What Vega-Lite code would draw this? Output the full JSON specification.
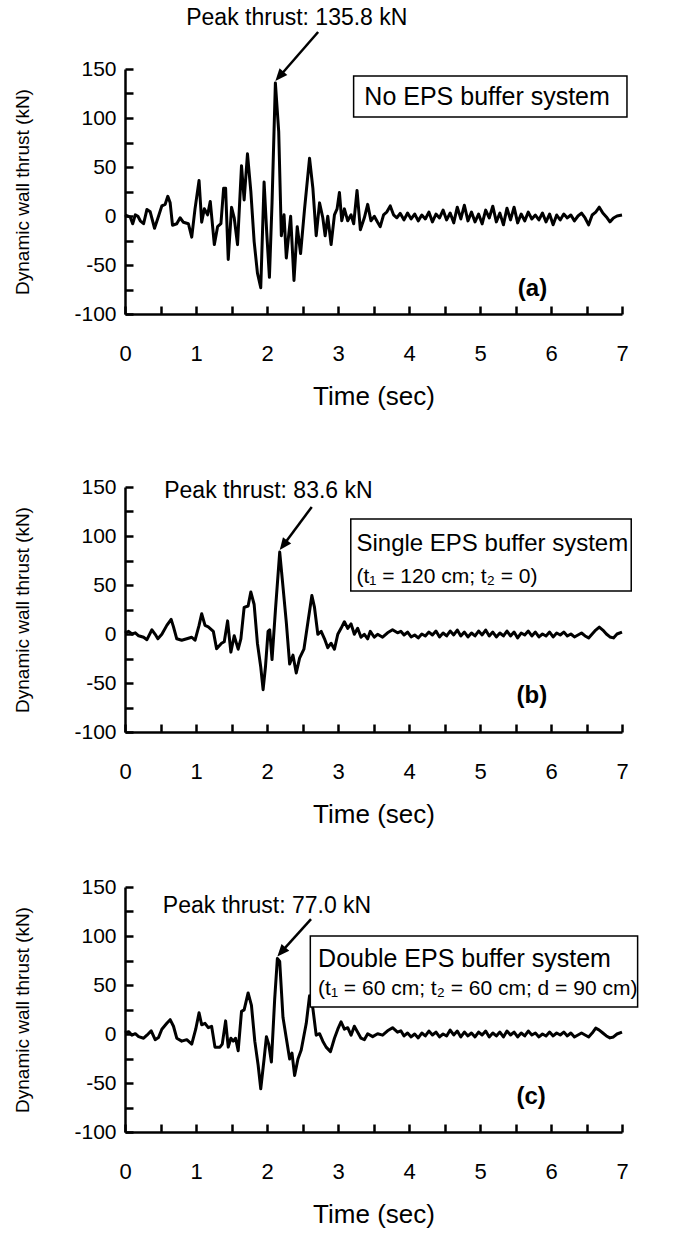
{
"$schema": "https://vega.github.io/schema/vega-lite/v6.json",
"background": "white",
"padding": {"left": 13, "top": 7, "right": 10, "bottom": 10},
"bounds": "flush",
"spacing": 0,
"config": {
  "view": {"stroke": null},
  "font": "Liberation Sans",
  "axis": {"grid": false, "domainColor": "black", "domainWidth": 2.5, "tickColor": "black", "tickWidth": 2.5, "labelColor": "black", "labelFont": "Liberation Sans", "titleFont": "Liberation Sans", "titleFontWeight": "normal", "titleColor": "black", "labelOverlap": false, "labelFlush": false},
  "axisX": {"labelFontSize": 22, "titleFontSize": 26, "labelPadding": 29, "titlePadding": 19},
  "axisY": {"labelFontSize": 21, "titleFontSize": 19, "labelPadding": 9, "titlePadding": 41},
  "text": {"font": "Liberation Sans", "color": "black"}
},
"datasets": {
  "a": [
{"t":0,"v":1.2},{"t":0.075,"v":-1.2},{"t":0.108,"v":-7.9},{"t":0.145,"v":1.2},{"t":0.182,"v":-0.3},{"t":0.215,"v":-4.9},{"t":0.262,"v":-7.9},{"t":0.309,"v":6.7},{"t":0.355,"v":4.3},{"t":0.416,"v":-12.5},{"t":0.472,"v":-0.3},{"t":0.519,"v":10.3},{"t":0.566,"v":11.9},{"t":0.603,"v":20.1},{"t":0.636,"v":13.4},{"t":0.669,"v":-9.4},{"t":0.729,"v":-7.9},{"t":0.776,"v":-1.8},{"t":0.823,"v":-6.4},{"t":0.893,"v":-7.9},{"t":0.94,"v":-21.6},{"t":0.986,"v":7.3},{"t":1.043,"v":36.2},{"t":1.08,"v":-6.4},{"t":1.117,"v":7.3},{"t":1.164,"v":1.2},{"t":1.201,"v":14.9},{"t":1.258,"v":-29.2},{"t":1.304,"v":-10.9},{"t":1.351,"v":-7.9},{"t":1.389,"v":28.3},{"t":1.417,"v":28.3},{"t":1.454,"v":-44.4},{"t":1.501,"v":8.8},{"t":1.538,"v":-1.8},{"t":1.585,"v":-29.2},{"t":1.641,"v":51.4},{"t":1.678,"v":16.4},{"t":1.725,"v":63.5},{"t":1.772,"v":25.5},{"t":1.819,"v":-26.1},{"t":1.865,"v":-58},{"t":1.912,"v":-73.2},{"t":1.959,"v":34.6},{"t":1.996,"v":-16.7},{"t":2.034,"v":-62.6},{"t":2.071,"v":13.4},{"t":2.118,"v":135.8},{"t":2.165,"v":86},{"t":2.202,"v":-20.1},{"t":2.24,"v":1.2},{"t":2.272,"v":-42.9},{"t":2.333,"v":-0.3},{"t":2.38,"v":-65.7},{"t":2.426,"v":-10.9},{"t":2.473,"v":-38.3},{"t":2.529,"v":7.3},{"t":2.599,"v":58.9},{"t":2.646,"v":28.5},{"t":2.693,"v":-20.1},{"t":2.74,"v":13.4},{"t":2.786,"v":-1.8},{"t":2.819,"v":-20.1},{"t":2.856,"v":-0.3},{"t":2.903,"v":-29.2},{"t":2.95,"v":1.2},{"t":2.987,"v":7.3},{"t":3.02,"v":24},{"t":3.053,"v":-4.9},{"t":3.09,"v":7.3},{"t":3.137,"v":-4.9},{"t":3.184,"v":1.2},{"t":3.221,"v":-7.9},{"t":3.268,"v":26.1},{"t":3.315,"v":-14},{"t":3.371,"v":-1.8},{"t":3.418,"v":11.9},{"t":3.464,"v":-4.9},{"t":3.511,"v":-0.3},{"t":3.558,"v":-6.4},{"t":3.595,"v":-10.9},{"t":3.642,"v":1.2},{"t":3.689,"v":4.3},{"t":3.736,"v":10.3},{"t":3.782,"v":1.2},{"t":3.829,"v":-1.8},{"t":3.876,"v":2.7},
{"t":3.93,"v":-4},{"t":3.98,"v":3},{"t":4.03,"v":-3},{"t":4.08,"v":2},{"t":4.13,"v":-5},{"t":4.18,"v":1},{"t":4.23,"v":-3},{"t":4.28,"v":4},{"t":4.33,"v":-6},{"t":4.38,"v":2},{"t":4.43,"v":-2},{"t":4.48,"v":6},{"t":4.53,"v":-4},{"t":4.58,"v":3},{"t":4.63,"v":-7},{"t":4.68,"v":9},{"t":4.73,"v":-3},{"t":4.78,"v":11},{"t":4.83,"v":-5},{"t":4.88,"v":4},{"t":4.93,"v":-6},{"t":4.98,"v":2},{"t":5.03,"v":-8},{"t":5.08,"v":6},{"t":5.13,"v":-2},{"t":5.18,"v":10},{"t":5.23,"v":-6},{"t":5.28,"v":3},{"t":5.33,"v":-9},{"t":5.38,"v":8},{"t":5.43,"v":-4},{"t":5.48,"v":9},{"t":5.53,"v":-7},{"t":5.58,"v":2},{"t":5.63,"v":-5},{"t":5.68,"v":4},{"t":5.73,"v":-3},{"t":5.78,"v":1},{"t":5.83,"v":-4},{"t":5.88,"v":3},{"t":5.93,"v":-6},{"t":5.98,"v":2},{"t":6.03,"v":-9},{"t":6.08,"v":1},{"t":6.13,"v":-4},{"t":6.18,"v":2},{"t":6.23,"v":-2},{"t":6.28,"v":1},{"t":6.33,"v":-5},{"t":6.38,"v":0},{"t":6.43,"v":3},{"t":6.48,"v":-2},{"t":6.53,"v":-9},{"t":6.58,"v":1},{"t":6.63,"v":4},{"t":6.68,"v":9},{"t":6.73,"v":3},{"t":6.78,"v":-1},{"t":6.83,"v":-6},{"t":6.88,"v":-2},{"t":6.93,"v":0},{"t":7.0,"v":1}
  ],
  "b": [
{"t":0,"v":1},{"t":0.051,"v":2.7},{"t":0.098,"v":0},{"t":0.145,"v":1.2},{"t":0.192,"v":-1.8},{"t":0.262,"v":-3.3},{"t":0.309,"v":-5.8},{"t":0.379,"v":4.3},{"t":0.425,"v":-0.3},{"t":0.463,"v":-4.9},{"t":0.519,"v":-0.3},{"t":0.589,"v":8.8},{"t":0.65,"v":14.9},{"t":0.683,"v":7.3},{"t":0.729,"v":-4.9},{"t":0.799,"v":-6.4},{"t":0.87,"v":-4.9},{"t":0.94,"v":-3.3},{"t":0.986,"v":-6.4},{"t":1.043,"v":8.8},{"t":1.08,"v":20.7},{"t":1.127,"v":8.8},{"t":1.173,"v":7.3},{"t":1.244,"v":2.7},{"t":1.29,"v":-15},{"t":1.36,"v":-9.4},{"t":1.398,"v":-7.9},{"t":1.445,"v":13.4},{"t":1.491,"v":-18.5},{"t":1.538,"v":-1.8},{"t":1.594,"v":-15.5},{"t":1.632,"v":-4.9},{"t":1.678,"v":27.1},{"t":1.734,"v":28.6},{"t":1.772,"v":42.9},{"t":1.819,"v":30.1},{"t":1.865,"v":-9.4},{"t":1.912,"v":-33.7},{"t":1.945,"v":-56.8},{"t":1.978,"v":-33.7},{"t":2.015,"v":2.7},{"t":2.038,"v":4.3},{"t":2.071,"v":-26.1},{"t":2.118,"v":23.7},{"t":2.179,"v":83.6},{"t":2.225,"v":48.3},{"t":2.272,"v":11.9},{"t":2.319,"v":-30.7},{"t":2.366,"v":-21.6},{"t":2.412,"v":-39.8},{"t":2.459,"v":-24.6},{"t":2.52,"v":-15.5},{"t":2.576,"v":11.9},{"t":2.632,"v":39.2},{"t":2.669,"v":27.1},{"t":2.716,"v":-0.3},{"t":2.763,"v":2.7},{"t":2.81,"v":-4.9},{"t":2.856,"v":-14},{"t":2.903,"v":-9.4},{"t":2.95,"v":-15.5},{"t":2.997,"v":-0.3},{"t":3.043,"v":5.8},{"t":3.09,"v":12.5},{"t":3.137,"v":5.8},{"t":3.184,"v":10.3},{"t":3.23,"v":-0.3},{"t":3.277,"v":5.8},{"t":3.324,"v":-3.3},{"t":3.371,"v":-0.3},{"t":3.418,"v":-4.9},{"t":3.455,"v":2.7},{"t":3.511,"v":-3.3},{"t":3.558,"v":-0.3},{"t":3.628,"v":-3.3},{"t":3.698,"v":1.2},{"t":3.768,"v":4.3},{"t":3.838,"v":1.2},{"t":3.885,"v":2.7},
{"t":3.93,"v":-1},{"t":3.98,"v":2},{"t":4.03,"v":-3},{"t":4.08,"v":-1},{"t":4.13,"v":-4},{"t":4.18,"v":0},{"t":4.23,"v":-2},{"t":4.28,"v":2},{"t":4.33,"v":-1},{"t":4.38,"v":3},{"t":4.43,"v":-3},{"t":4.48,"v":1},{"t":4.53,"v":-2},{"t":4.58,"v":3},{"t":4.63,"v":-1},{"t":4.68,"v":4},{"t":4.73,"v":-2},{"t":4.78,"v":2},{"t":4.83,"v":-3},{"t":4.88,"v":1},{"t":4.93,"v":-2},{"t":4.98,"v":3},{"t":5.03,"v":-1},{"t":5.08,"v":4},{"t":5.13,"v":-2},{"t":5.18,"v":2},{"t":5.23,"v":-3},{"t":5.28,"v":1},{"t":5.33,"v":-2},{"t":5.38,"v":3},{"t":5.43,"v":-2},{"t":5.48,"v":2},{"t":5.53,"v":-4},{"t":5.58,"v":1},{"t":5.63,"v":-1},{"t":5.68,"v":3},{"t":5.73,"v":-2},{"t":5.78,"v":2},{"t":5.83,"v":-3},{"t":5.88,"v":0},{"t":5.93,"v":-2},{"t":5.98,"v":2},{"t":6.03,"v":-3},{"t":6.08,"v":1},{"t":6.13,"v":-1},{"t":6.18,"v":2},{"t":6.23,"v":-2},{"t":6.28,"v":0},{"t":6.33,"v":-3},{"t":6.38,"v":-1},{"t":6.43,"v":1},{"t":6.48,"v":-2},{"t":6.53,"v":-4},{"t":6.58,"v":0},{"t":6.63,"v":4},{"t":6.68,"v":7},{"t":6.73,"v":4},{"t":6.78,"v":0},{"t":6.83,"v":-3},{"t":6.88,"v":-4},{"t":6.93,"v":0},{"t":7.0,"v":2}
  ],
  "c": [
{"t":0,"v":1},{"t":0.051,"v":2.4},{"t":0.098,"v":-1.2},{"t":0.145,"v":0.3},{"t":0.192,"v":-2.7},{"t":0.262,"v":-4.3},{"t":0.309,"v":-1.2},{"t":0.369,"v":3.3},{"t":0.425,"v":-5.8},{"t":0.472,"v":-3.6},{"t":0.519,"v":4.9},{"t":0.589,"v":10.9},{"t":0.636,"v":14.6},{"t":0.683,"v":7.9},{"t":0.729,"v":-4.3},{"t":0.799,"v":-7.3},{"t":0.87,"v":-5.8},{"t":0.94,"v":-10.3},{"t":0.996,"v":4.9},{"t":1.043,"v":21.6},{"t":1.08,"v":9.4},{"t":1.127,"v":10.9},{"t":1.173,"v":6.4},{"t":1.22,"v":7.9},{"t":1.267,"v":-13.4},{"t":1.337,"v":-13.4},{"t":1.37,"v":-10.3},{"t":1.417,"v":13.4},{"t":1.454,"v":-13.4},{"t":1.491,"v":-4.3},{"t":1.524,"v":-7.3},{"t":1.557,"v":-4.3},{"t":1.594,"v":-17},{"t":1.641,"v":23.1},{"t":1.678,"v":24.6},{"t":1.734,"v":41.9},{"t":1.781,"v":29.2},{"t":1.828,"v":-7.3},{"t":1.875,"v":-31.6},{"t":1.912,"v":-55.9},{"t":1.959,"v":-25.5},{"t":1.992,"v":-2.7},{"t":2.024,"v":-10.3},{"t":2.062,"v":-28.6},{"t":2.108,"v":35.3},{"t":2.146,"v":77},{"t":2.179,"v":74},{"t":2.225,"v":17},{"t":2.272,"v":-4.3},{"t":2.319,"v":-25.5},{"t":2.352,"v":-19.5},{"t":2.389,"v":-42.3},{"t":2.436,"v":-25.5},{"t":2.482,"v":-16.4},{"t":2.553,"v":10.9},{"t":2.599,"v":38.9},{"t":2.646,"v":26.1},{"t":2.693,"v":-1.2},{"t":2.74,"v":0.3},{"t":2.786,"v":-7.3},{"t":2.833,"v":-13.4},{"t":2.894,"v":-18},{"t":2.95,"v":-4.3},{"t":2.997,"v":4.9},{"t":3.043,"v":12.5},{"t":3.09,"v":4.9},{"t":3.137,"v":6.4},{"t":3.184,"v":-1.2},{"t":3.23,"v":7.9},{"t":3.277,"v":1.8},{"t":3.324,"v":-4.3},{"t":3.371,"v":-5.8},{"t":3.418,"v":0.3},{"t":3.488,"v":-2.7},{"t":3.558,"v":0.3},{"t":3.628,"v":-1.2},{"t":3.698,"v":3.3},{"t":3.768,"v":6.4},{"t":3.838,"v":1.8},{"t":3.885,"v":3.3},
{"t":3.93,"v":-2},{"t":3.98,"v":1},{"t":4.03,"v":-3},{"t":4.08,"v":0},{"t":4.13,"v":-4},{"t":4.18,"v":1},{"t":4.23,"v":-2},{"t":4.28,"v":3},{"t":4.33,"v":-1},{"t":4.38,"v":2},{"t":4.43,"v":-3},{"t":4.48,"v":0},{"t":4.53,"v":-2},{"t":4.58,"v":4},{"t":4.63,"v":-1},{"t":4.68,"v":3},{"t":4.73,"v":-3},{"t":4.78,"v":2},{"t":4.83,"v":-2},{"t":4.88,"v":1},{"t":4.93,"v":-3},{"t":4.98,"v":2},{"t":5.03,"v":-1},{"t":5.08,"v":3},{"t":5.13,"v":-3},{"t":5.18,"v":1},{"t":5.23,"v":-2},{"t":5.28,"v":2},{"t":5.33,"v":-3},{"t":5.38,"v":3},{"t":5.43,"v":-1},{"t":5.48,"v":2},{"t":5.53,"v":-3},{"t":5.58,"v":1},{"t":5.63,"v":-2},{"t":5.68,"v":3},{"t":5.73,"v":-1},{"t":5.78,"v":1},{"t":5.83,"v":-3},{"t":5.88,"v":0},{"t":5.93,"v":-2},{"t":5.98,"v":2},{"t":6.03,"v":-2},{"t":6.08,"v":1},{"t":6.13,"v":-1},{"t":6.18,"v":2},{"t":6.23,"v":-2},{"t":6.28,"v":1},{"t":6.33,"v":-3},{"t":6.38,"v":-1},{"t":6.43,"v":1},{"t":6.48,"v":-1},{"t":6.53,"v":-3},{"t":6.58,"v":1},{"t":6.63,"v":6},{"t":6.68,"v":4},{"t":6.73,"v":1},{"t":6.78,"v":-2},{"t":6.83,"v":-4},{"t":6.88,"v":-3},{"t":6.93,"v":0},{"t":7.0,"v":2}
  ]
},
"vconcat": [
{
  "width": 497, "height": 245,
  "resolve": {"axis": {"x": "independent", "y": "independent"}},
  "layer": [
    {"data": {"name": "a"}, "mark": {"type": "line", "color": "black", "strokeWidth": 3, "strokeJoin": "round"},
     "encoding": {
       "x": {"field": "t", "type": "quantitative", "scale": {"domain": [0, 7], "nice": false}, "axis": {"title": "Time (sec)", "ticks": false, "values": [0,1,2,3,4,5,6,7], "labelExpr": "datum.value + ''"}},
       "y": {"field": "v", "type": "quantitative", "scale": {"domain": [-100, 150], "nice": false}, "axis": {"title": "Dynamic wall thrust (kN)", "ticks": false, "values": [-100,-50,0,50,100,150], "labelExpr": "datum.value + ''"}}
     }},
    {"data": {"values": [{"t": 2.72, "v": 187.8, "t2": 2.175, "v2": 142.3}]}, "mark": {"type": "rule", "color": "black", "strokeWidth": 2.5},
     "encoding": {
       "x": {"field": "t", "type": "quantitative", "axis": {"orient": "bottom", "offset": -8, "tickSize": 8, "domain": false, "labels": false, "title": null, "values": [0,0.5,1,1.5,2,2.5,3,3.5,4,4.5,5,5.5,6,6.5,7]}},
       "y": {"field": "v", "type": "quantitative", "axis": {"orient": "left", "offset": -8, "tickSize": 8, "domain": false, "labels": false, "title": null, "values": [-100,-75,-50,-25,0,25,50,75,100,125,150]}},
       "x2": {"field": "t2"}, "y2": {"field": "v2"}}},
    {"data": {"values": [{"t": 2.118, "v": 137.8, "ang": 221}]}, "mark": {"type": "point", "shape": "M0,0L-0.42,1L0.42,1Z", "filled": true, "color": "black", "opacity": 1, "size": 600},
     "encoding": {"x": {"field": "t", "type": "quantitative", "axis": null}, "y": {"field": "v", "type": "quantitative", "axis": null}, "angle": {"field": "ang", "type": "quantitative", "scale": null}}},
    {"data": {"values": [{"t": 2.42, "v": 202, "label": "Peak thrust: 135.8 kN"}]}, "mark": {"type": "text", "fontSize": 23, "align": "center", "baseline": "middle"},
     "encoding": {"x": {"field": "t", "type": "quantitative", "axis": null}, "y": {"field": "v", "type": "quantitative", "axis": null}, "text": {"field": "label"}}},
    {"data": {"values": [{"t": 3.22, "v": 142.9, "t2": 7.07, "v2": 101}]}, "mark": {"type": "rect", "fill": "white", "stroke": "black", "strokeWidth": 1.5},
     "encoding": {"x": {"field": "t", "type": "quantitative", "axis": null}, "y": {"field": "v", "type": "quantitative", "axis": null}, "x2": {"field": "t2"}, "y2": {"field": "v2"}}},
    {"data": {"values": [{"t": 5.1, "v": 121.9, "label": "No EPS buffer system"}]}, "mark": {"type": "text", "fontSize": 25, "align": "center", "baseline": "middle"},
     "encoding": {"x": {"field": "t", "type": "quantitative", "axis": null}, "y": {"field": "v", "type": "quantitative", "axis": null}, "text": {"field": "label"}}},
    {"data": {"values": [{"t": 5.74, "v": -74.5, "label": "(a)"}]}, "mark": {"type": "text", "fontSize": 24, "fontWeight": "bold", "align": "center", "baseline": "middle"},
     "encoding": {"x": {"field": "t", "type": "quantitative", "axis": null}, "y": {"field": "v", "type": "quantitative", "axis": null}, "text": {"field": "label"}}}
  ]
},
{"width": 1, "height": 173, "data": {"values": []}, "mark": "point"},
{
  "width": 497, "height": 245,
  "resolve": {"axis": {"x": "independent", "y": "independent"}},
  "layer": [
    {"data": {"name": "b"}, "mark": {"type": "line", "color": "black", "strokeWidth": 3, "strokeJoin": "round"},
     "encoding": {
       "x": {"field": "t", "type": "quantitative", "scale": {"domain": [0, 7], "nice": false}, "axis": {"title": "Time (sec)", "ticks": false, "values": [0,1,2,3,4,5,6,7], "labelExpr": "datum.value + ''"}},
       "y": {"field": "v", "type": "quantitative", "scale": {"domain": [-100, 150], "nice": false}, "axis": {"title": "Dynamic wall thrust (kN)", "ticks": false, "values": [-100,-50,0,50,100,150], "labelExpr": "datum.value + ''"}}
     }},
    {"data": {"values": [{"t": 2.63, "v": 129.6, "t2": 2.23, "v2": 90.6}]}, "mark": {"type": "rule", "color": "black", "strokeWidth": 2.5},
     "encoding": {
       "x": {"field": "t", "type": "quantitative", "axis": {"orient": "bottom", "offset": -8, "tickSize": 8, "domain": false, "labels": false, "title": null, "values": [0,0.5,1,1.5,2,2.5,3,3.5,4,4.5,5,5.5,6,6.5,7]}},
       "y": {"field": "v", "type": "quantitative", "axis": {"orient": "left", "offset": -8, "tickSize": 8, "domain": false, "labels": false, "title": null, "values": [-100,-75,-50,-25,0,25,50,75,100,125,150]}},
       "x2": {"field": "t2"}, "y2": {"field": "v2"}}},
    {"data": {"values": [{"t": 2.179, "v": 85.6, "ang": 217}]}, "mark": {"type": "point", "shape": "M0,0L-0.42,1L0.42,1Z", "filled": true, "color": "black", "opacity": 1, "size": 600},
     "encoding": {"x": {"field": "t", "type": "quantitative", "axis": null}, "y": {"field": "v", "type": "quantitative", "axis": null}, "angle": {"field": "ang", "type": "quantitative", "scale": null}}},
    {"data": {"values": [{"t": 2.02, "v": 146, "label": "Peak thrust: 83.6 kN"}]}, "mark": {"type": "text", "fontSize": 23, "align": "center", "baseline": "middle"},
     "encoding": {"x": {"field": "t", "type": "quantitative", "axis": null}, "y": {"field": "v", "type": "quantitative", "axis": null}, "text": {"field": "label"}}},
    {"data": {"values": [{"t": 3.18, "v": 117.3, "t2": 7.13, "v2": 43.9}]}, "mark": {"type": "rect", "fill": "white", "stroke": "black", "strokeWidth": 1.5},
     "encoding": {"x": {"field": "t", "type": "quantitative", "axis": null}, "y": {"field": "v", "type": "quantitative", "axis": null}, "x2": {"field": "t2"}, "y2": {"field": "v2"}}},
    {"data": {"values": [{"t": 3.26, "v": 91.8, "label": "Single EPS buffer system"}]}, "mark": {"type": "text", "fontSize": 24, "align": "left", "baseline": "middle"},
     "encoding": {"x": {"field": "t", "type": "quantitative", "axis": null}, "y": {"field": "v", "type": "quantitative", "axis": null}, "text": {"field": "label"}}},
    {"data": {"values": [{"t": 3.26, "v": 58.2, "label": "(t₁ = 120 cm; t₂ = 0)"}]}, "mark": {"type": "text", "fontSize": 21, "align": "left", "baseline": "middle"},
     "encoding": {"x": {"field": "t", "type": "quantitative", "axis": null}, "y": {"field": "v", "type": "quantitative", "axis": null}, "text": {"field": "label"}}},
    {"data": {"values": [{"t": 5.73, "v": -63.3, "label": "(b)"}]}, "mark": {"type": "text", "fontSize": 24, "fontWeight": "bold", "align": "center", "baseline": "middle"},
     "encoding": {"x": {"field": "t", "type": "quantitative", "axis": null}, "y": {"field": "v", "type": "quantitative", "axis": null}, "text": {"field": "label"}}}
  ]
},
{"width": 1, "height": 155, "data": {"values": []}, "mark": "point"},
{
  "width": 497, "height": 245,
  "resolve": {"axis": {"x": "independent", "y": "independent"}},
  "layer": [
    {"data": {"name": "c"}, "mark": {"type": "line", "color": "black", "strokeWidth": 3, "strokeJoin": "round"},
     "encoding": {
       "x": {"field": "t", "type": "quantitative", "scale": {"domain": [0, 7], "nice": false}, "axis": {"title": "Time (sec)", "ticks": false, "values": [0,1,2,3,4,5,6,7], "labelExpr": "datum.value + ''"}},
       "y": {"field": "v", "type": "quantitative", "scale": {"domain": [-100, 150], "nice": false}, "axis": {"title": "Dynamic wall thrust (kN)", "ticks": false, "values": [-100,-50,0,50,100,150], "labelExpr": "datum.value + ''"}}
     }},
    {"data": {"values": [{"t": 2.62, "v": 117.3, "t2": 2.2, "v2": 83.6}]}, "mark": {"type": "rule", "color": "black", "strokeWidth": 2.5},
     "encoding": {
       "x": {"field": "t", "type": "quantitative", "axis": {"orient": "bottom", "offset": -8, "tickSize": 8, "domain": false, "labels": false, "title": null, "values": [0,0.5,1,1.5,2,2.5,3,3.5,4,4.5,5,5.5,6,6.5,7]}},
       "y": {"field": "v", "type": "quantitative", "axis": {"orient": "left", "offset": -8, "tickSize": 8, "domain": false, "labels": false, "title": null, "values": [-100,-75,-50,-25,0,25,50,75,100,125,150]}},
       "x2": {"field": "t2"}, "y2": {"field": "v2"}}},
    {"data": {"values": [{"t": 2.146, "v": 79, "ang": 221}]}, "mark": {"type": "point", "shape": "M0,0L-0.42,1L0.42,1Z", "filled": true, "color": "black", "opacity": 1, "size": 600},
     "encoding": {"x": {"field": "t", "type": "quantitative", "axis": null}, "y": {"field": "v", "type": "quantitative", "axis": null}, "angle": {"field": "ang", "type": "quantitative", "scale": null}}},
    {"data": {"values": [{"t": 2.0, "v": 131, "label": "Peak thrust: 77.0 kN"}]}, "mark": {"type": "text", "fontSize": 23, "align": "center", "baseline": "middle"},
     "encoding": {"x": {"field": "t", "type": "quantitative", "axis": null}, "y": {"field": "v", "type": "quantitative", "axis": null}, "text": {"field": "label"}}},
    {"data": {"values": [{"t": 2.61, "v": 100, "t2": 7.22, "v2": 27.6}]}, "mark": {"type": "rect", "fill": "white", "stroke": "black", "strokeWidth": 1.5},
     "encoding": {"x": {"field": "t", "type": "quantitative", "axis": null}, "y": {"field": "v", "type": "quantitative", "axis": null}, "x2": {"field": "t2"}, "y2": {"field": "v2"}}},
    {"data": {"values": [{"t": 2.72, "v": 76.5, "label": "Double EPS buffer system"}]}, "mark": {"type": "text", "fontSize": 25, "align": "left", "baseline": "middle"},
     "encoding": {"x": {"field": "t", "type": "quantitative", "axis": null}, "y": {"field": "v", "type": "quantitative", "axis": null}, "text": {"field": "label"}}},
    {"data": {"values": [{"t": 2.72, "v": 45.9, "label": "(t₁ = 60 cm; t₂ = 60 cm; d = 90 cm)"}]}, "mark": {"type": "text", "fontSize": 21, "align": "left", "baseline": "middle"},
     "encoding": {"x": {"field": "t", "type": "quantitative", "axis": null}, "y": {"field": "v", "type": "quantitative", "axis": null}, "text": {"field": "label"}}},
    {"data": {"values": [{"t": 5.72, "v": -64.3, "label": "(c)"}]}, "mark": {"type": "text", "fontSize": 24, "fontWeight": "bold", "align": "center", "baseline": "middle"},
     "encoding": {"x": {"field": "t", "type": "quantitative", "axis": null}, "y": {"field": "v", "type": "quantitative", "axis": null}, "text": {"field": "label"}}}
  ]
}
]
}
